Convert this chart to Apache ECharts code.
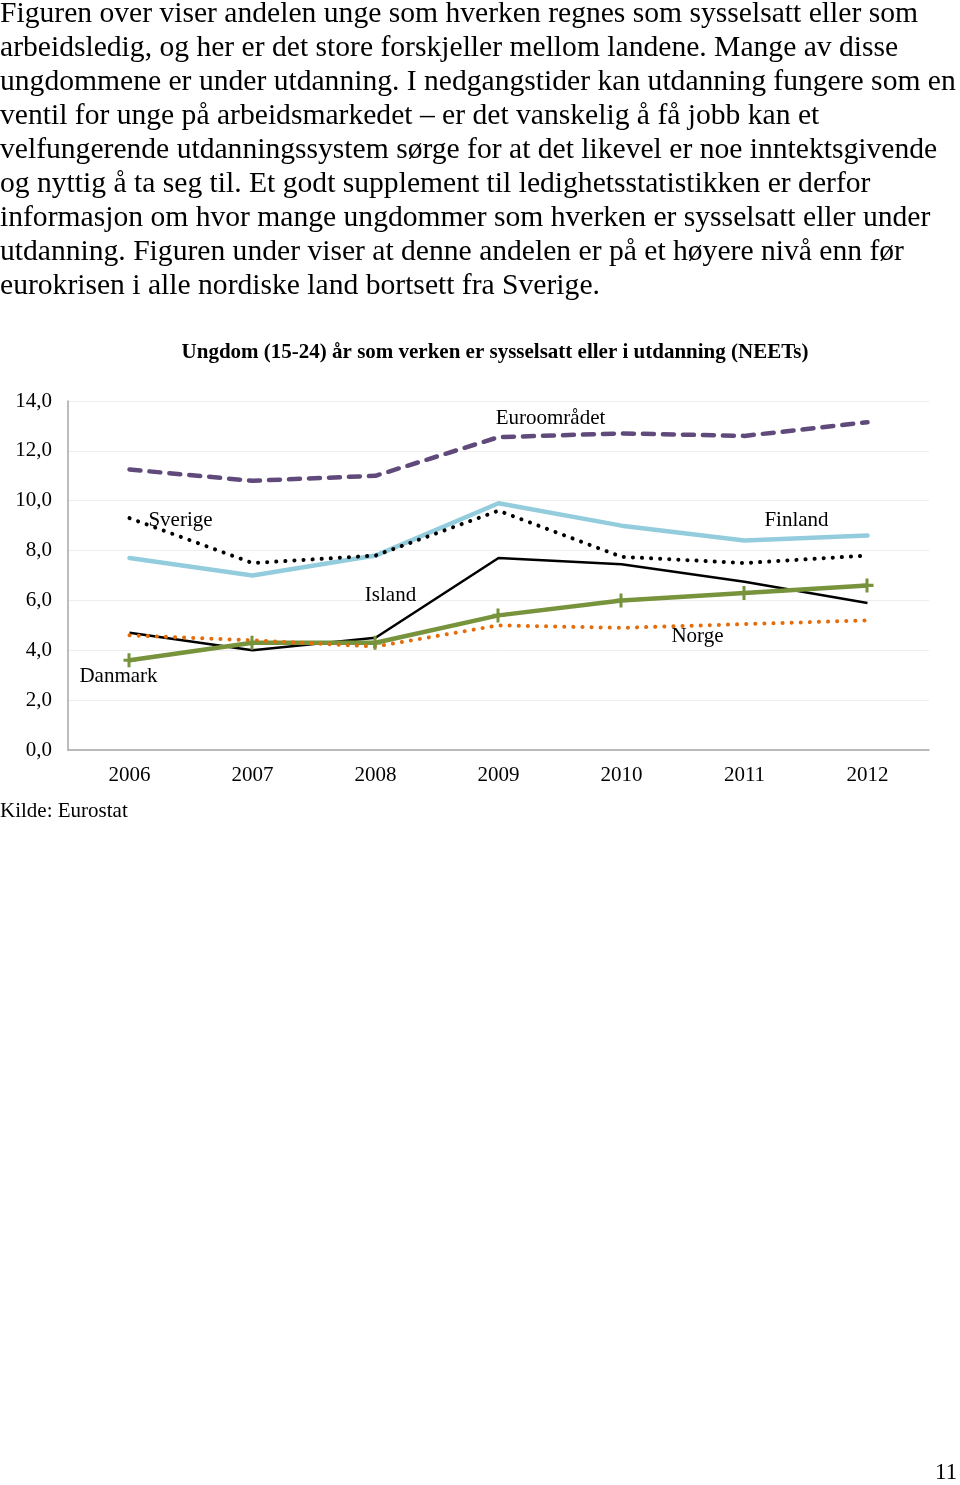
<!DOCTYPE html>
<html>
<head>
<meta charset="utf-8">
<script src="https://cdn.jsdelivr.net/npm/echarts@6/dist/echarts.min.js"></script>
<style>
  html, body { margin: 0; padding: 0; background: #fff; }
  #page { position: relative; width: 960px; height: 1485px; overflow: hidden; }
  #para { position: absolute; left: 0; top: -5px; font-family: "Liberation Serif", "Times New Roman", serif;
          font-size: 29.6px; line-height: 34px; color: #000; white-space: nowrap; z-index: 2; }
  #chart { position: absolute; left: 0; top: 0; width: 960px; height: 1485px; }
</style>
</head>
<body>
<div id="page">
  <div id="chart"></div>
  <div id="para">Figuren over viser andelen unge som hverken regnes som sysselsatt eller som<br>arbeidsledig, og her er det store forskjeller mellom landene. Mange av disse<br>ungdommene er under utdanning. I nedgangstider kan utdanning fungere som en<br>ventil for unge på arbeidsmarkedet – er det vanskelig å få jobb kan et<br>velfungerende utdanningssystem sørge for at det likevel er noe inntektsgivende<br>og nyttig å ta seg til. Et godt supplement til ledighetsstatistikken er derfor<br>informasjon om hvor mange ungdommer som hverken er sysselsatt eller under<br>utdanning. Figuren under viser at denne andelen er på et høyere nivå enn før<br>eurokrisen i alle nordiske land bortsett fra Sverige.</div>
</div>
<script>
// ---- data ----
const years = ['2006', '2007', '2008', '2009', '2010', '2011', '2012'];
const euroomradet = [11.25, 10.8, 11.0, 12.55, 12.7, 12.6, 13.15];
const finland = [7.7, 7.0, 7.8, 9.9, 9.0, 8.4, 8.6];
const sverige = [9.3, 7.5, 7.8, 9.6, 7.75, 7.5, 7.8];
const island = [4.7, 4.0, 4.5, 7.7, 7.45, 6.75, 5.9];
const danmark = [3.6, 4.3, 4.3, 5.4, 6.0, 6.3, 6.6];
const norge = [4.6, 4.4, 4.15, 5.0, 4.9, 5.05, 5.2];
const yTicks = [0, 2, 4, 6, 8, 10, 12, 14];
const titleText = 'Ungdom (15-24) år som verken er sysselsatt eller i utdanning (NEETs)';
const sourceText = 'Kilde: Eurostat';
const pageNumber = '11';

const FONT = '"Liberation Serif", "Times New Roman", serif';
const FS = 21;

function buildData(values, name, labelIndex, offset) {
  return values.map((v, i) => {
    if (i !== labelIndex) return { value: v };
    return {
      value: v,
      label: {
        show: true, formatter: name, position: 'inside', offset: offset,
        color: '#000', fontFamily: FONT, fontSize: FS
      }
    };
  });
}

function lineSeries(name, values, style, labelIndex, offset, symbol) {
  return {
    name: name,
    type: 'line',
    data: buildData(values, name, labelIndex, offset),
    showSymbol: true,
    symbol: symbol ? symbol.shape : 'circle',
    symbolSize: symbol ? symbol.size : 0.01,
    itemStyle: { color: style.color },
    lineStyle: style,
    label: { show: false },
    emphasis: { disabled: true },
    animation: false,
    z: style.z || 2
  };
}

const chart = echarts.init(document.getElementById('chart'), null, { renderer: 'canvas' });
const option = {
  backgroundColor: '#fff',
  animation: false,
  title: {
    text: titleText,
    left: 490, top: 337, textAlign: 'center',
    textStyle: { fontFamily: FONT, fontSize: FS, fontWeight: 'bold', color: '#000' }
  },
  graphic: [
    { type: 'text', left: 0, top: 801, style: { text: sourceText, font: FS + 'px ' + FONT, fill: '#000' } },
    { type: 'text', left: 935, top: 1461, style: { text: pageNumber, font: '23px ' + FONT, fill: '#000' } }
  ],
  grid: { left: 68, right: 31, top: 401, bottom: 735, containLabel: false },
  xAxis: {
    type: 'category',
    data: years,
    boundaryGap: true,
    axisLine: { show: true, lineStyle: { color: '#a6a6a6', width: 1.5 } },
    axisTick: { show: false },
    axisLabel: { color: '#000', fontFamily: FONT, fontSize: FS, margin: 15 },
    splitLine: { show: false }
  },
  yAxis: {
    type: 'value',
    min: yTicks[0], max: yTicks[yTicks.length - 1], interval: 2,
    axisLine: { show: true, lineStyle: { color: '#a6a6a6', width: 1.5 } },
    axisTick: { show: false },
    axisLabel: {
      color: '#000', fontFamily: FONT, fontSize: FS, margin: 16,
      formatter: v => v.toFixed(1).replace('.', ',')
    },
    splitLine: { show: true, lineStyle: { color: '#eeeeee', width: 1 } }
  },
  series: [
    lineSeries('Euroområdet', euroomradet,
      { color: '#604a7b', width: 4.5, type: [11, 9], cap: 'round' }, 3, [52, -19]),
    lineSeries('Finland', finland,
      { color: '#93cddd', width: 4.5, type: 'solid', cap: 'round' }, 5, [52, -20]),
    lineSeries('Sverige', sverige,
      { color: '#000000', width: 4, type: [0.1, 9], cap: 'round', z: 3 }, 0, [51, 2]),
    lineSeries('Island', island,
      { color: '#000000', width: 2.5, type: 'solid' }, 2, [15, -42]),
    lineSeries('Danmark', danmark,
      { color: '#77933c', width: 4.5, type: 'solid' }, 0, [-11, 16],
      { shape: 'path://M4,0h3v5h5v3h-5v5h-3v-5h-4v-3h4z', size: [12, 14] }),
    lineSeries('Norge', norge,
      { color: '#e46c0a', width: 4, type: [0.1, 9], cap: 'round' }, 4, [76, 9])
  ]
};
chart.setOption(option);
</script>
</body>
</html>
